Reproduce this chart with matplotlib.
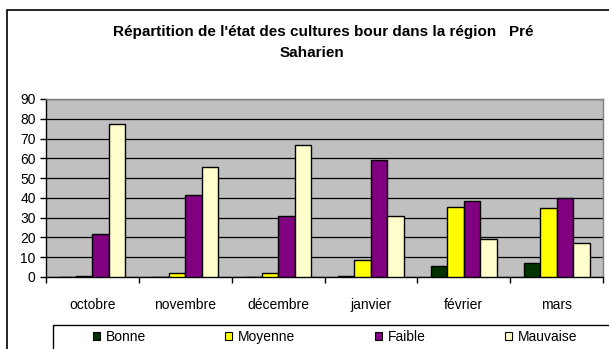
import numpy as np
import matplotlib
matplotlib.use("Agg")
import matplotlib.pyplot as plt
from matplotlib.patches import Rectangle, Patch

plt.rcParams['font.family'] = ['Liberation Sans', 'DejaVu Sans']

mois = ['octobre', 'novembre', 'décembre', 'janvier', 'février', 'mars']
bonne = [0, 0, 0, 0.5, 5.7, 7.2]
moyenne = [0.5, 2, 2, 8.8, 35.4, 35.1]
faible = [21.7, 41.6, 30.8, 59.2, 38.3, 40]
mauvaise = [77.5, 55.8, 66.5, 30.8, 19.4, 17]

series = [('Bonne', bonne, '#003300'),
          ('Moyenne', moyenne, '#FFFF00'),
          ('Faible', faible, '#800080'),
          ('Mauvaise', mauvaise, '#FFFFCC')]

W, H = 609, 349
fig = plt.figure(figsize=(W / 100, H / 100), dpi=100)

# chart area border (runs off the right and bottom edges)
fig.patches.append(Rectangle((6.5 / W, 1 - 700 / H), 800 / W, (700 - 9.5) / H,
                             transform=fig.transFigure, fill=False,
                             edgecolor='black', linewidth=1.2))

fig.text(323 / W, 1 - 32 / H, "Répartition de l'état des cultures bour dans la région   Pré",
         ha='center', va='center', fontsize=11, fontweight='bold')
fig.text(312 / W, 1 - 53 / H, "Saharien",
         ha='center', va='center', fontsize=11, fontweight='bold')

left, right, top, bottom = 46, 603, 99, 277
ax = fig.add_axes([left / W, 1 - bottom / H, (right - left) / W, (bottom - top) / H])
ax.set_facecolor('#C0C0C0')

x = np.arange(len(mois))
bw = 0.178
for i, (nom, vals, col) in enumerate(series):
    ax.bar(x + (i - 1.5) * bw, vals, bw, color=col, edgecolor='black',
           linewidth=1, label=nom, zorder=3)

ax.set_xlim(-0.5, len(mois) - 0.5)
ax.set_ylim(0, 90)
ax.set_yticks(range(0, 91, 10))
ax.yaxis.grid(True, color='black', linewidth=0.9, zorder=1)
ax.set_axisbelow(True)

ax.set_xticks(x)
ax.set_xticklabels(mois)
ax.set_xticks(np.arange(-0.5, len(mois)), minor=True)
ax.tick_params(axis='x', which='major', length=0, pad=15, labelsize=10)
ax.tick_params(axis='x', which='minor', length=4, width=1, color='black', direction='out')
ax.tick_params(axis='y', length=4, width=1, pad=3.4, labelsize=10, direction='out')

for s in ['top', 'right']:
    ax.spines[s].set_color('#808080')
    ax.spines[s].set_linewidth(1)
for s in ['left', 'bottom']:
    ax.spines[s].set_color('black')
    ax.spines[s].set_linewidth(1)

# legend box (runs off the figure edges)
fig.patches.append(Rectangle((52.5 / W, 1 - 500 / H), 800 / W, (500 - 325) / H,
                             transform=fig.transFigure, fill=False,
                             edgecolor='black', linewidth=1))
handles = [Patch(facecolor=c, edgecolor='black', linewidth=0.8) for _, _, c in series]
fig.legend(handles, [n for n, _, _ in series], ncol=4, frameon=False,
           loc='center left', bbox_to_anchor=(93 / W, 1 - 337 / H),
           fontsize=10, handlelength=0.5, handleheight=0.5, handletextpad=0.43,
           columnspacing=5.7, borderpad=0, borderaxespad=0)

fig.savefig('out.png', dpi=100)
